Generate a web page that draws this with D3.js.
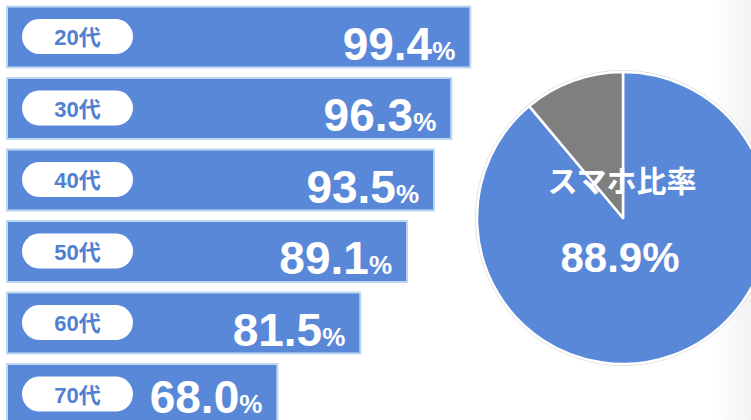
<!DOCTYPE html>
<html>
<head>
<meta charset="utf-8">
<script src="https://cdn.jsdelivr.net/npm/d3@7"></script>
<style>
  body { margin: 0; background: #fff; }
  svg { display: block; }
</style>
</head>
<body>
<div id="chart"></div>
<script>
// data
const ageGroups = ["20代", "30代", "40代", "50代", "60代", "70代"];
const smartphoneRates = [99.4, 96.3, 93.5, 89.1, 81.5, 68.0];
const pieCategories = ["スマホ", "その他"];
const pieValues = [88.9, 11.1];
const pieTitle = "スマホ比率";
const pieValueLabel = "88.9%";

const width = 751;
const height = 420;
const barBlue = "#5a88d8";
const latinFont = "'Liberation Sans', Arial, 'Noto Sans CJK JP', sans-serif";

const svg = d3.select("#chart")
  .append("svg")
  .attr("width", width)
  .attr("height", height);

svg.append("rect")
  .attr("width", width)
  .attr("height", height)
  .attr("fill", "#fff");

// faint shade on the right edge
const grad = svg.append("defs").append("linearGradient")
  .attr("id", "edgeShade")
  .attr("x1", "0").attr("x2", "1").attr("y1", "0").attr("y2", "0");
grad.append("stop").attr("offset", "0").attr("stop-color", "#fff");
grad.append("stop").attr("offset", "1").attr("stop-color", "#f2f2f2");
svg.append("rect")
  .attr("x", 712).attr("y", 0)
  .attr("width", width - 712).attr("height", height)
  .attr("fill", "url(#edgeShade)");

// scales
const xScale = d3.scaleLinear()
  .domain([24, 100])
  .range([0, 467]);

const yScale = d3.scaleBand()
  .domain(ageGroups)
  .range([6.5, 425])
  .paddingInner(0.147)
  .paddingOuter(0);

const barX = 7;

// bars
const rows = svg.append("g")
  .selectAll("g")
  .data(ageGroups.map((g, i) => ({ group: g, rate: smartphoneRates[i] })))
  .join("g")
  .attr("transform", d => `translate(${barX}, ${yScale(d.group)})`);

rows.append("rect")
  .attr("width", d => xScale(d.rate))
  .attr("height", yScale.bandwidth())
  .attr("fill", barBlue)
  .attr("stroke", "#bdd7ee")
  .attr("stroke-width", 2);

// pill labels
rows.append("rect")
  .attr("x", 15)
  .attr("y", 12.5)
  .attr("width", 111)
  .attr("height", 35)
  .attr("rx", 17.5)
  .attr("fill", "#fff");

rows.append("text")
  .attr("x", 70.5)
  .attr("y", 38.5)
  .attr("text-anchor", "middle")
  .attr("font-family", latinFont)
  .attr("font-weight", "bold")
  .attr("font-size", "22px")
  .attr("fill", "#5080d2")
  .text(d => d.group);

// value labels (kept inside the visible frame for the last row)
const valueText = rows.append("text")
  .attr("x", d => xScale(d.rate) - 15)
  .attr("y", d => Math.min(53, height - 7 - yScale(d.group)))
  .attr("text-anchor", "end")
  .attr("font-family", latinFont)
  .attr("font-weight", "bold")
  .attr("fill", "#fff");

valueText.append("tspan")
  .attr("font-size", "46px")
  .text(d => d.rate.toFixed(1));

valueText.append("tspan")
  .attr("font-size", "26px")
  .text("%");

// pie
const cx = 623, cy = 218, radius = 146;
const pieColors = d3.scaleOrdinal()
  .domain(pieCategories)
  .range([barBlue, "#7f7f7f"]);

const pie = d3.pie()
  .sort(null)
  .value(d => d.value);

const arc = d3.arc()
  .innerRadius(0)
  .outerRadius(radius);

const pieG = svg.append("g")
  .attr("transform", `translate(${cx}, ${cy})`);

pieG.append("circle")
  .attr("r", radius + 1.5)
  .attr("fill", "none")
  .attr("stroke", "#d8d8d8")
  .attr("stroke-width", 1);

pieG.selectAll("path")
  .data(pie(pieCategories.map((c, i) => ({ cat: c, value: pieValues[i] }))))
  .join("path")
  .attr("d", arc)
  .attr("fill", d => pieColors(d.data.cat))
  .attr("stroke", "#fff")
  .attr("stroke-width", 2.5)
  .attr("stroke-linejoin", "round");

pieG.append("text")
  .attr("x", -1)
  .attr("y", -26)
  .attr("text-anchor", "middle")
  .attr("font-family", "'Noto Sans CJK JP', sans-serif")
  .attr("font-weight", "bold")
  .attr("font-size", "30px")
  .attr("fill", "#fff")
  .text(pieTitle);

pieG.append("text")
  .attr("x", -3)
  .attr("y", 54)
  .attr("text-anchor", "middle")
  .attr("font-family", latinFont)
  .attr("font-weight", "bold")
  .attr("font-size", "42px")
  .attr("fill", "#fff")
  .text(pieValueLabel);
</script>
</body>
</html>
